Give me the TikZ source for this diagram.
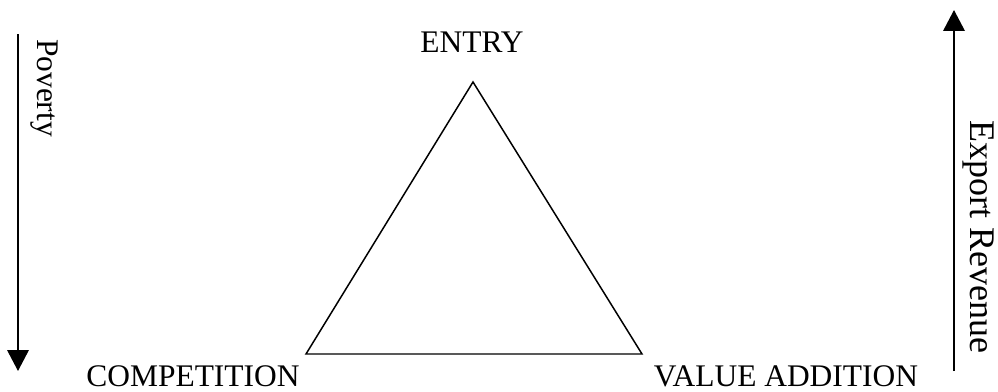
\documentclass[tikz,border=0pt]{standalone}
\usepackage{fontspec}
\setmainfont{Liberation Serif}
\usepackage{tikz}
\usetikzlibrary{arrows.meta,positioning}
\definecolor{traco}{RGB}{0,0,0}
\tikzset{
  rotulo/.style={inner sep=0pt,font=\fontsize{17.9}{21}\selectfont,text=traco},
  rotulogrande/.style={rotulo,font=\fontsize{20.5}{24}\selectfont},
  lado/.style={draw=traco,line width=0.85pt,line join=miter},
  seta/.style={-{Triangle[length=4.2mm,width=4.3mm]},line width=1.1pt,traco}
}
\begin{document}
\begin{tikzpicture}[x=0.02cm,y=-0.02cm]
\useasboundingbox (0,0) rectangle (998,392);
% triangle
\coordinate (topo) at (473,82);
\coordinate (esq) at (306,354);
\coordinate (dir) at (642,354);
\draw[lado] (topo) -- (esq) -- (dir) -- cycle;
% vertex labels
\node[rotulo,anchor=base] (entrada) at (472,52) {ENTRY};
\node[rotulo,anchor=base] (competicao) at (193,386) {COMPETITION};
\node[rotulo,anchor=base] (valor) at (786,386) {VALUE ADDITION};
% side arrows
\coordinate (pobrezaini) at (18,34);
\coordinate (pobrezafim) at (18,371);
\draw[seta] (pobrezaini) -- (pobrezafim);
\node[rotulo,rotate=-90] (pobreza) at (44,88) {Poverty};
\coordinate (receitaini) at (954,371);
\coordinate (receitafim) at (954,10);
\draw[seta] (receitaini) -- (receitafim);
\node[rotulogrande,rotate=-90] (receita) at (978,237) {Export Revenue};
\end{tikzpicture}
\end{document}
